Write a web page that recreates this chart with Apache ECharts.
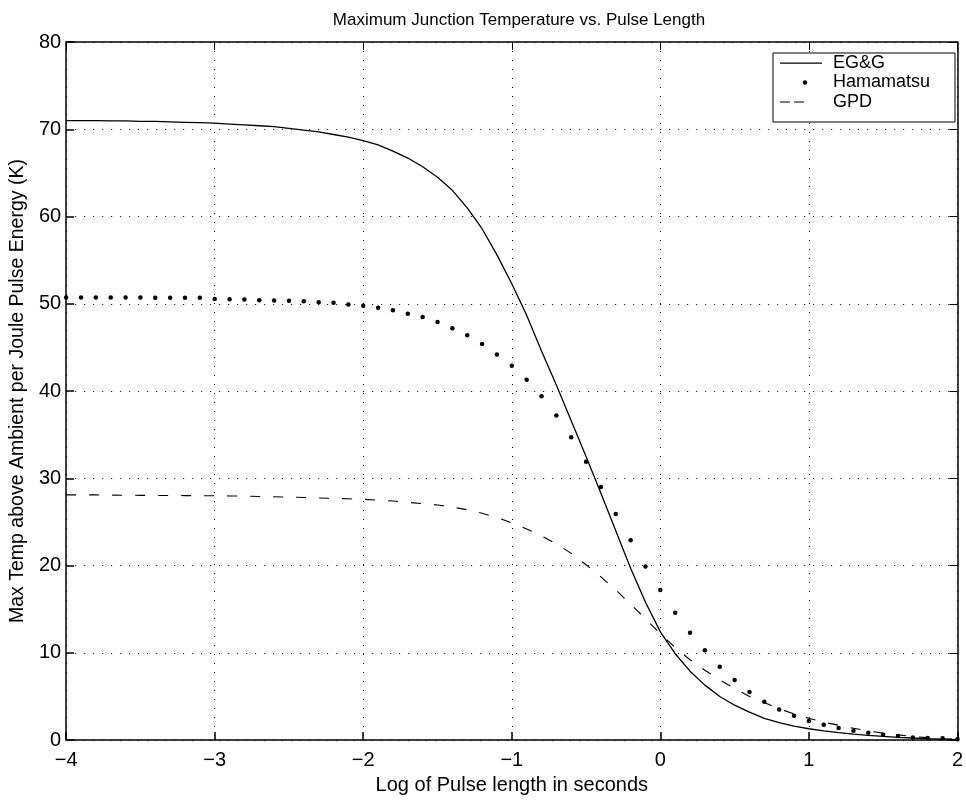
<!DOCTYPE html>
<html>
<head>
<meta charset="utf-8">
<script src="https://cdn.jsdelivr.net/npm/echarts@6/dist/echarts.min.js"></script>
<style>
html,body{margin:0;padding:0;background:#fff;}
#chart{width:966px;height:800px;}
</style>
</head>
<body>
<div id="chart"></div>
<script>
// log10 of pulse length (s)
const logT = [-4.0,-3.9,-3.8,-3.7,-3.6,-3.5,-3.4,-3.3,-3.2,-3.1,
  -3.0,-2.9,-2.8,-2.7,-2.6,-2.5,-2.4,-2.3,-2.2,-2.1,
  -2.0,-1.9,-1.8,-1.7,-1.6,-1.5,-1.4,-1.3,-1.2,-1.1,
  -1.0,-0.9,-0.8,-0.7,-0.6,-0.5,-0.4,-0.3,-0.2,-0.1,
  0.0,0.1,0.2,0.3,0.4,0.5,0.6,0.7,0.8,0.9,
  1.0,1.1,1.2,1.3,1.4,1.5,1.6,1.7,1.8,1.9,2.0];

const egg = [71.0,71.0,71.0,70.95,70.95,70.9,70.9,70.85,70.8,70.75,
  70.7,70.6,70.5,70.4,70.3,70.1,69.9,69.7,69.4,69.1,
  68.7,68.2,67.5,66.7,65.7,64.5,63.0,61.0,58.6,55.6,
  52.3,48.7,44.6,40.7,36.6,32.5,28.3,24.0,19.7,15.8,
  12.4,9.9,7.9,6.3,5.0,4.0,3.2,2.5,2.0,1.6,
  1.3,1.05,0.85,0.68,0.54,0.42,0.32,0.24,0.17,0.11,0.06];

const hamamatsu = [50.72,50.72,50.72,50.72,50.72,50.72,50.7,50.7,50.68,50.68,
  50.56,50.53,50.49,50.41,50.38,50.34,50.3,50.19,50.11,49.92,
  49.77,49.55,49.25,48.87,48.5,47.9,47.2,46.4,45.4,44.2,
  42.9,41.3,39.4,37.2,34.7,31.9,29.0,25.9,22.9,19.9,
  17.2,14.6,12.3,10.3,8.4,6.9,5.5,4.4,3.5,2.8,
  2.2,1.75,1.4,1.07,0.84,0.6,0.46,0.3,0.23,0.2,0.1];

const gpd = [28.1,28.1,28.1,28.08,28.06,28.05,28.04,28.03,28.02,28.01,
  28.0,27.98,27.95,27.92,27.89,27.85,27.8,27.75,27.7,27.65,
  27.6,27.5,27.4,27.25,27.1,26.95,26.7,26.4,26.0,25.5,
  24.9,24.2,23.4,22.5,21.4,20.1,18.7,17.2,15.6,13.9,
  12.2,10.6,9.2,8.0,6.9,5.9,5.0,4.3,3.6,3.0,
  2.5,2.05,1.7,1.35,1.05,0.8,0.6,0.42,0.28,0.16,0.08];

const titleText = 'Maximum Junction Temperature vs. Pulse Length';
const xName = 'Log of Pulse length in seconds';
const yName = 'Max Temp above Ambient per Joule Pulse Energy (K)';
const seriesNames = ['EG&G','Hamamatsu','GPD'];

function pairs(ys){ return logT.map((x,i)=>[x, ys[i]]); }

const FONT = 'Liberation Sans';
const chart = echarts.init(document.getElementById('chart'), null, {renderer:'canvas'});

const gridLine = {show:true, lineStyle:{color:'#000', width:1, type:[1,8]}};

// legend sample icons (42 x 18 boxes)
const iconSolid = 'path://M0,0L0,0M42,18L42,18M0,8.4H42V9.7H0Z';
const iconDot = 'path://M0,0L0,0M42,18L42,18M27.2,9A2.2,2.2,0,1,1,22.8,9A2.2,2.2,0,1,1,27.2,9Z';
const iconDash = 'path://M0,0L0,0M42,18L42,18M0,8.4H10V9.6H0ZM14,8.4H24V9.6H14Z';

chart.setOption({
  backgroundColor:'#fff',
  animation:false,
  title:{
    text:titleText, left:514, top:7, textAlign:'center',
    textStyle:{fontFamily:FONT, fontSize:17, fontWeight:'normal', color:'#000'}
  },
  legend:{
    left:773, top:53, orient:'vertical',
    backgroundColor:'#fff', borderColor:'#000', borderWidth:1,
    padding:[1,22,11,7],
    itemWidth:42, itemHeight:18, itemGap:1.5,
    symbolKeepAspect:true,
    itemStyle:{borderWidth:0},
    textStyle:{fontFamily:FONT, fontSize:18, lineHeight:18, color:'#000', width:100, padding:[0,0,0,6]},
    data:[
      {name:seriesNames[0], icon:iconSolid},
      {name:seriesNames[1], icon:iconDot},
      {name:seriesNames[2], icon:iconDash}
    ]
  },
  grid:{left:65, right:3, top:42, bottom:55, show:false},
  xAxis:[{
    type:'value', min:-4, max:2, interval:1,
    name:xName, nameLocation:'middle', nameGap:31,
    nameTextStyle:{fontFamily:FONT, fontSize:20, color:'#000'},
    axisLine:{show:true, onZero:false, lineStyle:{color:'#000', width:1.5}},
    axisTick:{show:true, inside:true, length:8, lineStyle:{color:'#000', width:1.5}},
    axisLabel:{fontFamily:FONT, fontSize:20, color:'#000', margin:10,
      formatter:v=>String(v).replace('-', '\u2212')},
    splitLine:gridLine
  },{
    type:'value', position:'top', min:-4, max:2, interval:1,
    axisLine:{show:true, onZero:false, lineStyle:{color:'#000', width:1.5}},
    axisTick:{show:true, inside:true, length:8, lineStyle:{color:'#000', width:1}},
    axisLabel:{show:false}, splitLine:{show:false}
  }],
  yAxis:[{
    type:'value', min:0, max:80, interval:10,
    name:yName, nameLocation:'middle', nameGap:37,
    nameTextStyle:{fontFamily:FONT, fontSize:19.5, color:'#000'},
    axisLine:{show:true, onZero:false, lineStyle:{color:'#000', width:1.5}},
    axisTick:{show:true, inside:true, length:8, lineStyle:{color:'#000', width:1.5}},
    axisLabel:{fontFamily:FONT, fontSize:20, color:'#000', margin:5},
    splitLine:gridLine
  },{
    type:'value', position:'right', min:0, max:80, interval:10,
    axisLine:{show:true, onZero:false, lineStyle:{color:'#000', width:1.5}},
    axisTick:{show:true, inside:true, length:8, lineStyle:{color:'#000', width:1}},
    axisLabel:{show:false}, splitLine:{show:false}
  }],
  series:[
    {name:seriesNames[0], type:'line', data:pairs(egg), showSymbol:false, symbol:'none',
      lineStyle:{color:'#000', width:1.3}, itemStyle:{color:'#000'}},
    {name:seriesNames[1], type:'line', data:pairs(hamamatsu), symbol:'circle', symbolSize:4.5, showSymbol:true,
      lineStyle:{width:0, opacity:0}, itemStyle:{color:'#000'}},
    {name:seriesNames[2], type:'line', data:pairs(gpd), showSymbol:false, symbol:'none',
      lineStyle:{color:'#000', width:1.1, type:[10,13]}, itemStyle:{color:'#000'}}
  ]
});
</script>
</body>
</html>
